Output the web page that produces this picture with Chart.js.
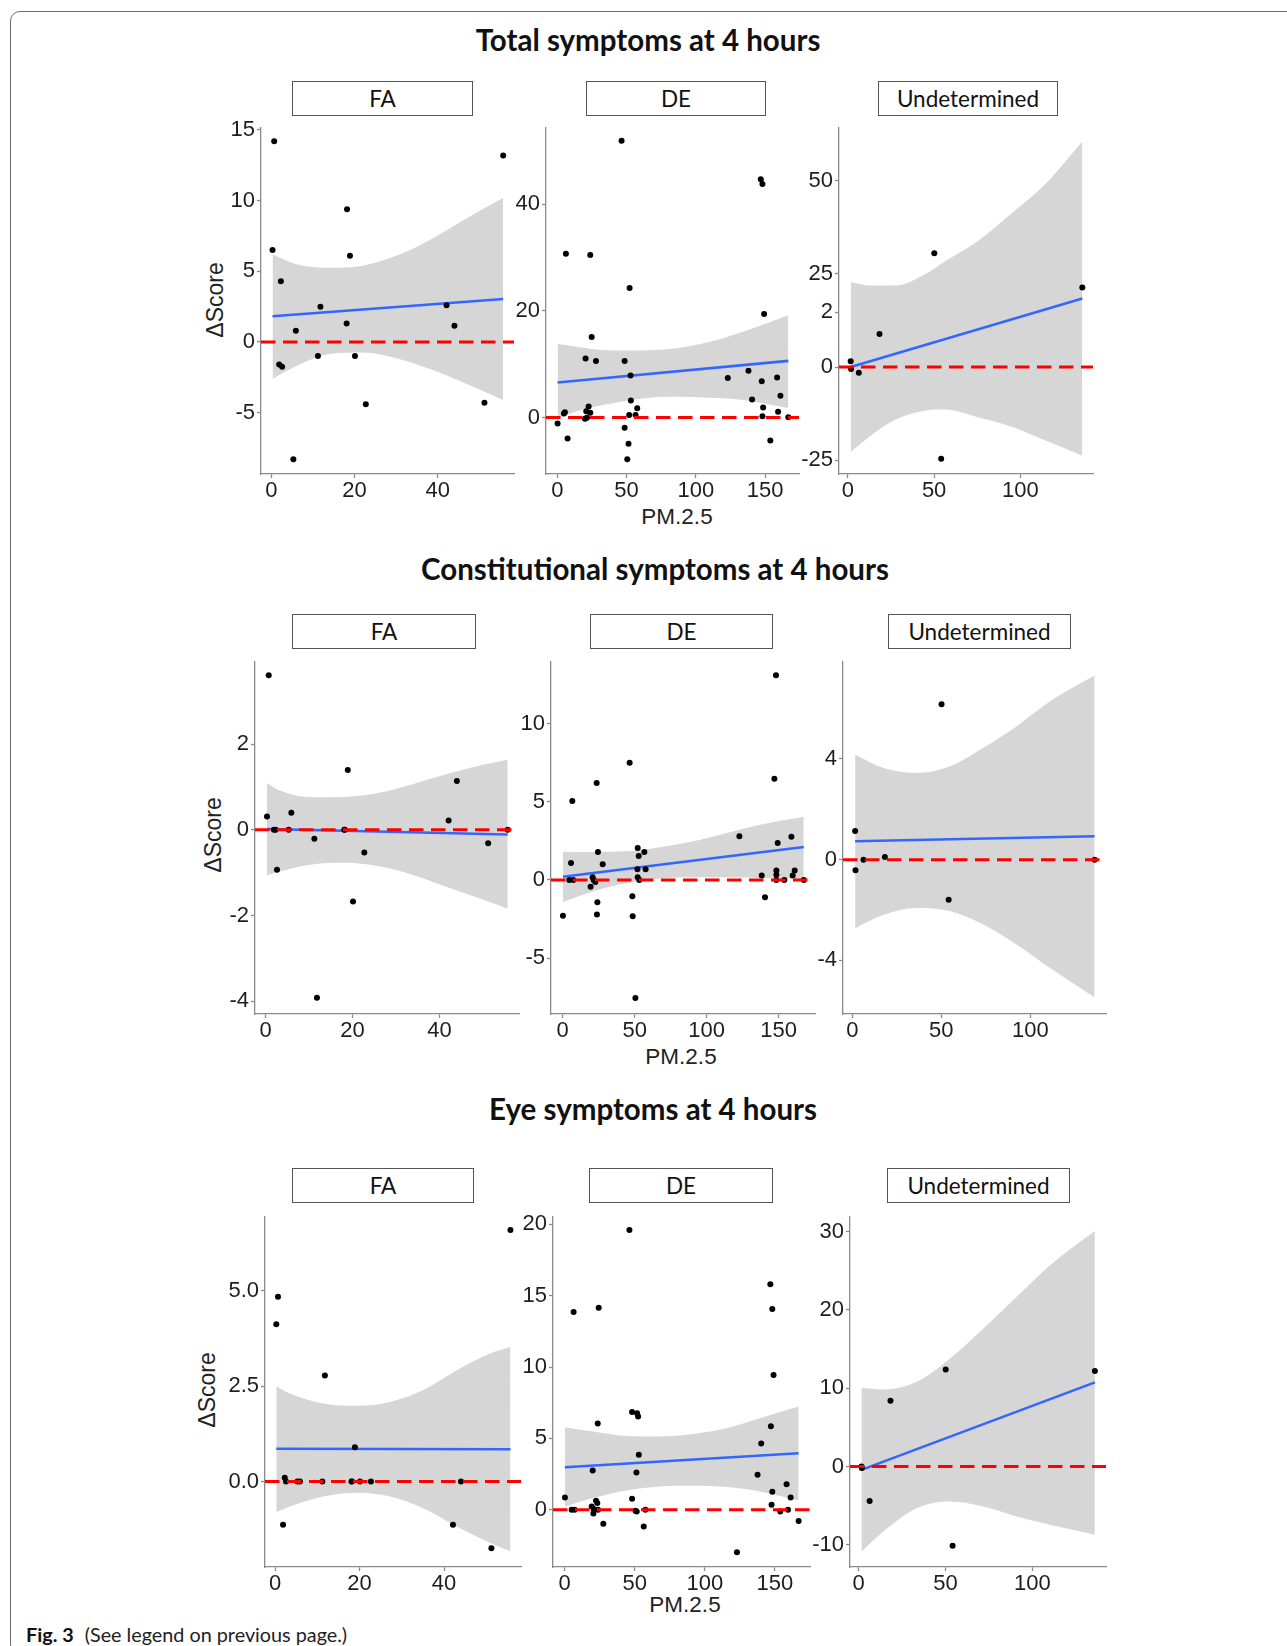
<!DOCTYPE html>
<html>
<head>
<meta charset="utf-8">
<title>Fig. 3</title>
<script src="https://cdn.jsdelivr.net/npm/chart.js@4.4.1/dist/chart.umd.min.js"></script>
<style>
  body { margin: 0; width: 1287px; height: 1646px; overflow: hidden; background: #fff; position: relative; }
  .frame { position: absolute; left: 10px; top: 11px; width: 1400px; height: 1641px;
    border: 1.5px solid #6d6d6d; border-radius: 10px; }
  .title { position: absolute; transform: translateX(-50%); white-space: nowrap;
    font: bold 29.5px Lato, sans-serif; line-height: 34px; color: #111; }
  .strip { position: absolute; box-sizing: border-box; border: 1.3px solid #555;
    display: flex; align-items: center; justify-content: center;
    font: 22.5px Lato, sans-serif; color: #111; }
  .ylab { position: absolute; white-space: nowrap; transform: translate(-50%, -50%) rotate(-90deg);
    font: 23px "Liberation Sans", Arial, sans-serif; color: #222; }
  .xlab { position: absolute; white-space: nowrap; transform: translate(-50%, -50%);
    font: 22.5px "Liberation Sans", Arial, sans-serif; color: #222; }
  .panel { position: absolute; }
  .caption { position: absolute; left: 26px; top: 1622px; font: 19.8px Lato, sans-serif; color: #222; white-space: nowrap; }
  .caption b { color: #111; margin-right: 6px; }
</style>
</head>
<body>
<div class="frame"></div>
<div class="caption"><b>Fig. 3</b> (See legend on previous page.)</div>
<script>
// PM2.5 of each subject, shared by the three symptom rows
const faPm = [0.3, 0.7, 1.9, 2.3, 2.6, 5.3, 5.9, 11.2, 11.8, 18.1, 18.2, 18.9, 20.1, 22.7, 42.1, 44.0, 51.2, 55.7];
const undPm = [1.6, 1.8, 6.3, 18.3, 50.1, 54.1, 136.0];

// delta score, FA group
const faTotal = [6.5, 14.2, -1.6, 4.3, -1.75, -8.3, 0.8, -1.0, 2.5, 1.3, 9.4, 6.1, -1.0, -4.4, 2.6, 1.15, -4.3, 13.2];
const faConst = [0.31, 3.61, 0, 0, -0.93, 0, 0.4, -0.21, -3.92, 0, 0, 1.4, -1.67, -0.53, 0.22, 1.14, -0.31, 0];
const faEye = [4.13, 4.85, -1.13, 0.1, 0, 0, 0, 0, 2.78, 0, 0, 0.9, 0, 0, -1.13, 0, -1.75, 6.6];

// delta score, undetermined group
const undTotal = [1.6, -0.5, -1.5, 8.9, 30.6, -24.6, 21.4];
const undConst = [1.14, -0.42, 0, 0.11, 6.17, -1.59, 0];
const undEye = [0, -0.2, -4.4, 8.4, 12.4, -10.1, 12.2];

// DE group, one x/y pair per row
const deTotalPm = [46.4, 146.9, 148.1, 6.2, 23.8, 52.2, 149.3, 24.8, 20.4, 27.9, 48.6, 52.9, 123.1, 138.0, 147.6, 158.7, 161.1, 140.6, 53.1, 57.7,
  22.6, 148.6, 159.4, 4.8, 5.5, 20.9, 23.8, 20.0, 21.4, 51.9, 56.5, 148.1, 166.8, 0.2, 7.4, 48.6, 51.4, 50.5, 153.8];
const deTotal = [51.9, 44.7, 43.8, 30.7, 30.5, 24.3, 19.4, 15.1, 11.1, 10.6, 10.6, 7.9, 7.4, 8.8, 6.8, 7.5, 4.1, 3.4, 3.2, 1.75,
  2.1, 1.9, 1.1, 0.75, 1.0, 1.2, 0.9, -0.2, -0.05, 0.5, 0.5, 0.25, 0.05, -1.1, -3.9, -1.9, -4.9, -7.8, -4.3];

const deConstPm = [148.1, 46.5, 147.0, 23.6, 6.7, 122.7, 158.8, 149.3, 52.1, 24.5, 56.7, 52.8, 5.8, 27.8, 51.9, 57.6, 138.2, 148.4, 148.4, 161.1,
  159.7, 20.8, 21.5, 52.1, 53.2, 4.6, 7.4, 22.7, 148.4, 153.9, 167.4, 19.4, 0.2, 24.1, 23.8, 48.4, 48.6, 140.5, 50.5];
const deConst = [13.1, 7.5, 6.48, 6.2, 5.05, 2.79, 2.77, 2.37, 2.05, 1.79, 1.79, 1.54, 1.09, 1.0, 0.68, 0.68, 0.28, 0.6, 0.34, 0.6,
  0.28, 0.17, 0, 0.17, 0, 0, 0, -0.13, 0, 0, 0, -0.43, -2.28, -1.43, -2.2, -1.04, -2.32, -1.11, -7.55];

const deEyePm = [46.2, 146.7, 24.3, 6.4, 148.1, 149.0, 48.1, 51.7, 52.4, 23.6, 147.1, 140.2, 52.9, 51.2, 20.0, 137.6, 158.3, 148.1, 161.2, 0.2,
  48.1, 22.4, 23.3, 147.6, 19.3, 5.0, 7.1, 20.7, 23.8, 50.5, 51.4, 57.6, 159.3, 153.8, 20.5, 27.6, 56.4, 166.9, 122.9];
const deEye = [19.6, 15.8, 14.15, 13.85, 14.06, 9.44, 6.85, 6.76, 6.53, 6.04, 5.85, 4.64, 3.85, 2.61, 2.75, 2.45, 1.79, 1.26, 0.86, 0.86,
  0.77, 0.63, 0.47, 0.35, 0.23, 0, 0, 0.05, 0, -0.07, -0.12, 0, 0, -0.12, -0.26, -0.98, -1.17, -0.79, -2.98];

// linear fits (end points) and 95% bands
const faTotalFit = [1.82, 3.04];
const faTotalBandX = [0.3, 6, 14, 22, 30, 38, 46, 55.7];
const faTotalUpper = [6.2, 5.5, 5.25, 5.4, 6.1, 7.2, 8.6, 10.2];
const faTotalLower = [-2.6, -1.7, -0.85, -0.75, -1.15, -1.9, -2.85, -4.1];

const deTotalFit = [6.57, 10.64];
const deTotalBandX = [0.2, 14, 38, 62, 86, 110, 134, 166.8];
const deTotalUpper = [13.8, 13.3, 12.6, 12.6, 13.0, 14.2, 16.1, 19.2];
const deTotalLower = [-0.2, 1.2, 2.6, 3.6, 3.9, 3.7, 3.3, 1.8];

const undTotalFit = [0, 18.4];
const undTotalBandX = [1.6, 13.5, 27, 46, 56, 75, 95, 114, 136];
const undTotalUpper = [22.8, 21.9, 21.9, 25.3, 28.3, 33.7, 41.3, 48.9, 60.6];
const undTotalLower = [-22.8, -18.3, -14.2, -11.6, -11.4, -13.4, -16.0, -19.6, -23.8];

const faConstFit = [0.02, -0.11];
const faConstBandX = [0.3, 3.7, 10.6, 18.3, 25.9, 33.6, 41.3, 49.0, 55.7];
const faConstUpper = [1.09, 0.9, 0.76, 0.77, 0.86, 1.06, 1.29, 1.5, 1.64];
const faConstLower = [-1.06, -0.96, -0.81, -0.77, -0.85, -1.04, -1.32, -1.59, -1.84];

const deConstFit = [0.21, 2.11];
const deConstBandX = [0.2, 21.3, 44.4, 67.6, 90.7, 113.9, 137.0, 167.4];
const deConstUpper = [1.81, 1.79, 1.83, 2.09, 2.47, 3.01, 3.54, 4.05];
const deConstLower = [-1.41, -0.72, -0.19, 0.09, 0.17, 0.17, 0.13, 0.07];

const undConstFit = [0.73, 0.93];
const undConstBandX = [1.6, 17.6, 36.3, 55, 73.6, 92.3, 111, 136];
const undConstUpper = [4.17, 3.64, 3.44, 3.71, 4.44, 5.3, 6.29, 7.31];
const undConstLower = [-2.72, -2.19, -1.92, -2.05, -2.58, -3.38, -4.3, -5.47];

const faEyeFit = [0.86, 0.85];
const faEyeBandX = [0.3, 3.55, 11.4, 19.3, 27.2, 35.1, 43, 50.9, 55.7];
const faEyeUpper = [2.5, 2.31, 2.05, 1.99, 2.09, 2.4, 2.92, 3.36, 3.53];
const faEyeLower = [-0.8, -0.65, -0.39, -0.29, -0.39, -0.7, -1.18, -1.61, -1.83];

const deEyeFit = [2.98, 3.96];
const deEyeBandX = [0.2, 20.2, 44, 67.9, 91.7, 115.5, 139.3, 166.9];
const deEyeUpper = [5.76, 5.48, 5.17, 5.13, 5.31, 5.71, 6.41, 7.23];
const deEyeLower = [0.23, 0.82, 1.35, 1.63, 1.68, 1.59, 1.28, 0.65];

const undEyeFit = [-0.42, 10.74];
const undEyeBandX = [1.6, 14.2, 33.4, 52.6, 71.8, 91, 110.2, 136];
const undEyeUpper = [10.06, 9.85, 10.83, 13.8, 17.62, 21.66, 25.69, 30.06];
const undEyeLower = [-10.83, -8.28, -5.31, -4.46, -5.1, -6.37, -7.43, -8.7];

// tick labels
const faXTicks = [0, 20, 40];
const deXTicks = [0, 50, 100, 150];
const undXTicks = [0, 50, 100];
const faTotalYTicks = [-5, 0, 5, 10, 15];
const deTotalYTicks = [0, 20, 40];
const undTotalYTicks = [-25, 0, 14.7, 25, 50];
const undTotalYLabels = ["-25", "0", "2", "25", "50"];
const faConstYTicks = [-4, -2, 0, 2];
const deConstYTicks = [-5, 0, 5, 10];
const undConstYTicks = [-4, 0, 4];
const faEyeYTicks = [0, 2.5, 5];
const faEyeYLabels = ["0.0", "2.5", "5.0"];
const deEyeYTicks = [0, 5, 10, 15, 20];
const undEyeYTicks = [-10, 0, 10, 20, 30];

const rows = [
    { title: "Total symptoms at 4 hours", titleX: 648, titleY: 40, ylabX: 215, ylabY: 300, xlabX: 677, xlabY: 517 },
    { title: "Constitutional symptoms at 4 hours", titleX: 655, titleY: 569, ylabX: 213, ylabY: 835, xlabX: 681, xlabY: 1057 },
    { title: "Eye symptoms at 4 hours", titleX: 653, titleY: 1109, ylabX: 207, ylabY: 1390, xlabX: 685, xlabY: 1605 },
];

// one entry per facet: plot box in page pixels, axis extents, data
const panels = [
    { strip: "FA", sx: [292, 473], sy: [81, 116], box: [261, 128, 514, 474], xr: [-2.47, 58.3], yr: [-9.34, 15.14],
      pm: faPm, score: faTotal, fit: faTotalFit, bx: faTotalBandX, up: faTotalUpper, lo: faTotalLower, xt: faXTicks, yt: faTotalYTicks },
    { strip: "DE", sx: [586, 766], sy: [81, 116], box: [546, 128, 799, 474], xr: [-8.17, 174.5], yr: [-10.58, 54.3],
      pm: deTotalPm, score: deTotal, fit: deTotalFit, bx: deTotalBandX, up: deTotalUpper, lo: deTotalLower, xt: deXTicks, yt: deTotalYTicks },
    { strip: "Undetermined", sx: [878, 1058], sy: [81, 116], box: [839, 128, 1093, 474], xr: [-5.2, 142.2], yr: [-28.7, 64.2],
      pm: undPm, score: undTotal, fit: undTotalFit, bx: undTotalBandX, up: undTotalUpper, lo: undTotalLower, xt: undXTicks, yt: undTotalYTicks, yl: undTotalYLabels },
    { strip: "FA", sx: [292, 476], sy: [614, 649], box: [255, 662, 519, 1014], xr: [-2.46, 58.3], yr: [-4.3, 3.92],
      pm: faPm, score: faConst, fit: faConstFit, bx: faConstBandX, up: faConstUpper, lo: faConstLower, xt: faXTicks, yt: faConstYTicks },
    { strip: "DE", sx: [590, 773], sy: [614, 649], box: [551, 662, 815, 1014], xr: [-8.1, 175.2], yr: [-8.57, 13.94],
      pm: deConstPm, score: deConst, fit: deConstFit, bx: deConstBandX, up: deConstUpper, lo: deConstLower, xt: deXTicks, yt: deConstYTicks },
    { strip: "Undetermined", sx: [888, 1071], sy: [614, 649], box: [843, 662, 1106, 1014], xr: [-5.2, 142.4], yr: [-6.13, 7.85],
      pm: undPm, score: undConst, fit: undConstFit, bx: undConstBandX, up: undConstUpper, lo: undConstLower, xt: undXTicks, yt: undConstYTicks },
    { strip: "FA", sx: [292, 474], sy: [1168, 1203], box: [265, 1217, 521, 1567], xr: [-2.37, 58.2], yr: [-2.24, 6.94],
      pm: faPm, score: faEye, fit: faEyeFit, bx: faEyeBandX, up: faEyeUpper, lo: faEyeLower, xt: faXTicks, yt: faEyeYTicks, yl: faEyeYLabels },
    { strip: "DE", sx: [589, 773], sy: [1168, 1203], box: [553, 1217, 810, 1567], xr: [-8.3, 175], yr: [-4.01, 20.51],
      pm: deEyePm, score: deEye, fit: deEyeFit, bx: deEyeBandX, up: deEyeUpper, lo: deEyeLower, xt: deXTicks, yt: deEyeYTicks },
    { strip: "Undetermined", sx: [887, 1070], sy: [1168, 1203], box: [850, 1217, 1106, 1567], xr: [-5.0, 142.4], yr: [-12.82, 31.85],
      pm: undPm, score: undEye, fit: undEyeFit, bx: undEyeBandX, up: undEyeUpper, lo: undEyeLower, xt: undXTicks, yt: undEyeYTicks },
];

const axisGray = "#8a8a8a";
const padL = 62, padT = 16, padR = 22, padB = 42;

const pts = (xs, ys) => xs.map((x, i) => ({ x: x, y: ys[i] }));

function addText(cls, text, x, y) {
    const el = document.createElement("div");
    el.className = cls;
    el.textContent = text;
    el.style.left = x + "px";
    el.style.top = y + "px";
    document.body.appendChild(el);
    return el;
}

function axis(range, ticks, labels, fitFn, pad) {
    return {
        type: "linear",
        min: range[0],
        max: range[1],
        afterBuildTicks: (s) => { s.ticks = ticks.map((v) => ({ value: v })); },
        afterFit: fitFn,
        border: { display: true, color: axisGray, width: 1.3 },
        grid: { drawOnChartArea: false, drawTicks: true, tickLength: 4, tickColor: axisGray, tickWidth: 1.3 },
        ticks: {
            color: "#1e1e1e",
            font: { family: "'Liberation Sans', Arial, sans-serif", size: 22 },
            padding: pad,
            maxRotation: 0,
            autoSkip: false,
            callback: (v, i) => (labels ? labels[i] : String(ticks[i])),
        },
    };
}

function drawPanel(p) {
    const [left, top, right, bottom] = p.box;
    const w = right - left + padL + padR;
    const h = bottom - top + padT + padB;

    const strip = document.createElement("div");
    strip.className = "strip";
    strip.textContent = p.strip;
    strip.style.left = p.sx[0] + "px";
    strip.style.top = p.sy[0] + "px";
    strip.style.width = (p.sx[1] - p.sx[0]) + "px";
    strip.style.height = (p.sy[1] - p.sy[0]) + "px";
    document.body.appendChild(strip);

    const holder = document.createElement("div");
    holder.className = "panel";
    holder.style.left = (left - padL) + "px";
    holder.style.top = (top - padT) + "px";
    const canvas = document.createElement("canvas");
    canvas.width = w;
    canvas.height = h;
    canvas.style.width = w + "px";
    canvas.style.height = h + "px";
    holder.appendChild(canvas);
    document.body.appendChild(holder);

    const fitX = [p.bx[0], p.bx[p.bx.length - 1]];

    new Chart(canvas, {
        type: "scatter",
        data: {
            datasets: [
                {
                    type: "line",
                    data: pts(p.xr, [0, 0]),
                    borderColor: "#ff0000",
                    borderWidth: 3,
                    borderDash: [14.5, 7.5],
                    pointRadius: 0,
                    order: 0,
                },
                {
                    data: pts(p.pm, p.score),
                    backgroundColor: "#000",
                    borderWidth: 0,
                    pointRadius: 3,
                    order: 1,
                },
                {
                    type: "line",
                    data: pts(fitX, p.fit),
                    borderColor: "#3366ff",
                    borderWidth: 2.6,
                    pointRadius: 0,
                    order: 2,
                },
                {
                    type: "line",
                    data: pts(p.bx, p.up),
                    borderWidth: 0,
                    pointRadius: 0,
                    cubicInterpolationMode: "monotone",
                    backgroundColor: "#d6d6d6",
                    fill: "+1",
                    order: 3,
                },
                {
                    type: "line",
                    data: pts(p.bx, p.lo),
                    borderWidth: 0,
                    pointRadius: 0,
                    cubicInterpolationMode: "monotone",
                    fill: false,
                    order: 4,
                },
            ],
        },
        options: {
            responsive: false,
            animation: false,
            devicePixelRatio: 1,
            layout: { padding: { left: 0, top: padT, right: padR, bottom: 0 } },
            plugins: { legend: { display: false }, tooltip: { enabled: false } },
            scales: {
                x: axis(p.xr, p.xt, null, (s) => { s.height = padB; }, 0),
                y: axis(p.yr, p.yt, p.yl, (s) => { s.width = padL; }, 2),
            },
        },
    });
}

rows.forEach((r) => {
    addText("title", r.title, r.titleX, r.titleY - 17);
    addText("ylab", "\u0394Score", r.ylabX, r.ylabY);
    addText("xlab", "PM.2.5", r.xlabX, r.xlabY);
});
panels.forEach(drawPanel);
</script>
</body>
</html>
